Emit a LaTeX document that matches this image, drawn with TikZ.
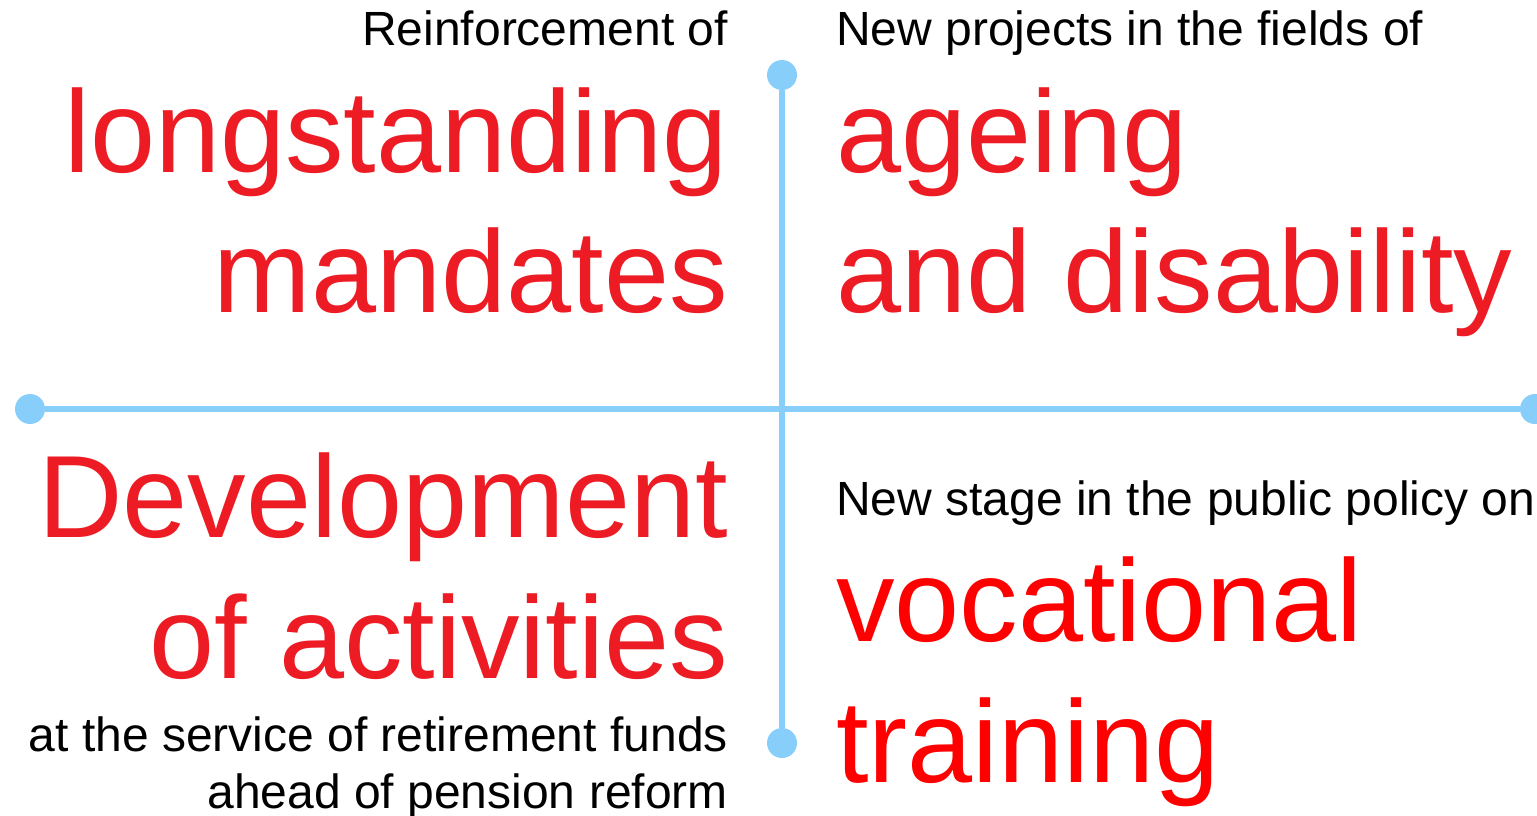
\documentclass[tikz,border=0pt]{standalone}
\usepackage{fontspec}
\setmainfont{Liberation Sans}
\definecolor{axisblue}{HTML}{87CEFA}
\definecolor{softred}{HTML}{ED1C24}
\definecolor{purered}{HTML}{FF0000}

\begin{document}
\begin{tikzpicture}[x=1pt, y=-1pt, dot/.style={circle, fill=axisblue, inner sep=0pt, minimum size=30pt}, axis/.style={draw=axisblue, line width=5.5pt}, big/.style={inner sep=0pt, font=\fontsize{117}{140}\selectfont}, small/.style={inner sep=0pt, font=\fontsize{48}{57}\selectfont}]
		\useasboundingbox (0,0) rectangle (1537,816);
		\node (dotT) [dot] at (782,75) {};
		\node (dotB) [dot] at (782,743) {};
		\node (dotL) [dot] at (30,409) {};
		\node (dotR) [dot] at (1535,409) {};
		\draw [axis] (dotT) -- (dotB);
		\draw [axis] (dotL) -- (dotR);
		%oben links
		\node (reinfL) [small, anchor=base east] at (728,46) {Reinforcement of};
		\path (reinfL.base east) ++(0,126) node (longL) [big, softred, anchor=base east] {longstanding};
		\path (longL.base east) ++(0,140) node (mandL) [big, softred, anchor=base east] {mandates};
		%oben rechts
		\node (projR) [small, anchor=base west] at (836,46) {New projects in the fields of};
		\path (projR.base west) ++(0,126) node (ageR) [big, softred, anchor=base west] {ageing};
		\path (ageR.base west) ++(0,140) node (disR) [big, softred, anchor=base west] {and disability};
		%unten links
		\node (devL) [big, softred, anchor=base east] at (728,537) {Development};
		\path (devL.base east) ++(0,141) node (actL) [big, softred, anchor=base east] {of activities};
		\path (actL.base east) ++(0,73) node (fundL) [small, anchor=base east] {at the service of retirement funds};
		\path (fundL.base east) ++(0,57) node (refL) [small, anchor=base east] {ahead of pension reform};
		%unten rechts
		\node (stageR) [small, anchor=base west] at (836,515) {New stage in the public policy on};
		\path (stageR.base west) ++(0,126) node (vocR) [big, purered, anchor=base west] {vocational};
		\path (vocR.base west) ++(0,141) node (trainR) [big, purered, anchor=base west] {training};
	\end{tikzpicture}
\end{document}
